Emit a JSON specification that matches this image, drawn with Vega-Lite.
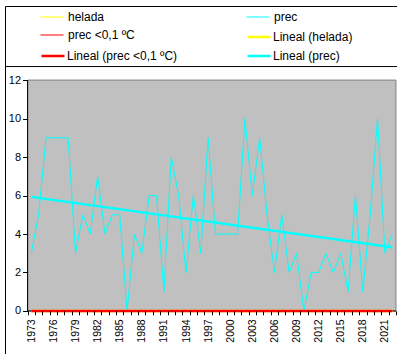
{
  "$schema": "https://vega.github.io/schema/vega-lite/v6.json",
  "width": 392,
  "height": 348,
  "autosize": {"type": "none"},
  "padding": {"left": 5, "top": 6, "right": 0, "bottom": 0},
  "background": "white",
  "config": {
    "view": {"stroke": "black", "strokeWidth": 1},
    "font": "Liberation Sans",
    "axis": {"labelFont": "Liberation Sans", "labelColor": "black", "tickColor": "black", "grid": false, "domain": false},
    "legend": {"labelFont": "Liberation Sans", "labelColor": "black"}
  },
  "data": {"values": [
    {"year": 1973, "helada": 0, "prec": 3, "prec <0,1 ºC": 0},
    {"year": 1974, "helada": 0, "prec": 5, "prec <0,1 ºC": 0},
    {"year": 1975, "helada": 0, "prec": 9, "prec <0,1 ºC": 0},
    {"year": 1976, "helada": 0, "prec": 9, "prec <0,1 ºC": 0},
    {"year": 1977, "helada": 0, "prec": 9, "prec <0,1 ºC": 0},
    {"year": 1978, "helada": 0, "prec": 9, "prec <0,1 ºC": 0},
    {"year": 1979, "helada": 0, "prec": 3, "prec <0,1 ºC": 0},
    {"year": 1980, "helada": 0, "prec": 5, "prec <0,1 ºC": 0},
    {"year": 1981, "helada": 0, "prec": 4, "prec <0,1 ºC": 0},
    {"year": 1982, "helada": 0, "prec": 7, "prec <0,1 ºC": 0},
    {"year": 1983, "helada": 0, "prec": 4, "prec <0,1 ºC": 0},
    {"year": 1984, "helada": 0, "prec": 5, "prec <0,1 ºC": 0},
    {"year": 1985, "helada": 0, "prec": 5, "prec <0,1 ºC": 0},
    {"year": 1986, "helada": 0, "prec": 0, "prec <0,1 ºC": 0},
    {"year": 1987, "helada": 0, "prec": 4, "prec <0,1 ºC": 0},
    {"year": 1988, "helada": 0, "prec": 3, "prec <0,1 ºC": 0},
    {"year": 1989, "helada": 0, "prec": 6, "prec <0,1 ºC": 0},
    {"year": 1990, "helada": 0, "prec": 6, "prec <0,1 ºC": 0},
    {"year": 1991, "helada": 0, "prec": 1, "prec <0,1 ºC": 0},
    {"year": 1992, "helada": 0, "prec": 8, "prec <0,1 ºC": 0},
    {"year": 1993, "helada": 0, "prec": 6, "prec <0,1 ºC": 0},
    {"year": 1994, "helada": 0, "prec": 2, "prec <0,1 ºC": 0},
    {"year": 1995, "helada": 0, "prec": 6, "prec <0,1 ºC": 0},
    {"year": 1996, "helada": 0, "prec": 3, "prec <0,1 ºC": 0},
    {"year": 1997, "helada": 0, "prec": 9, "prec <0,1 ºC": 0},
    {"year": 1998, "helada": 0, "prec": 4, "prec <0,1 ºC": 0},
    {"year": 1999, "helada": 0, "prec": 4, "prec <0,1 ºC": 0},
    {"year": 2000, "helada": 0, "prec": 4, "prec <0,1 ºC": 0},
    {"year": 2001, "helada": 0, "prec": 4, "prec <0,1 ºC": 0},
    {"year": 2002, "helada": 0, "prec": 10, "prec <0,1 ºC": 0},
    {"year": 2003, "helada": 0, "prec": 6, "prec <0,1 ºC": 0},
    {"year": 2004, "helada": 0, "prec": 9, "prec <0,1 ºC": 0},
    {"year": 2005, "helada": 0, "prec": 5, "prec <0,1 ºC": 0},
    {"year": 2006, "helada": 0, "prec": 2, "prec <0,1 ºC": 0},
    {"year": 2007, "helada": 0, "prec": 5, "prec <0,1 ºC": 0},
    {"year": 2008, "helada": 0, "prec": 2, "prec <0,1 ºC": 0},
    {"year": 2009, "helada": 0, "prec": 3, "prec <0,1 ºC": 0},
    {"year": 2010, "helada": 0, "prec": 0, "prec <0,1 ºC": 0},
    {"year": 2011, "helada": 0, "prec": 2, "prec <0,1 ºC": 0},
    {"year": 2012, "helada": 0, "prec": 2, "prec <0,1 ºC": 0},
    {"year": 2013, "helada": 0, "prec": 3, "prec <0,1 ºC": 0},
    {"year": 2014, "helada": 0, "prec": 2, "prec <0,1 ºC": 0},
    {"year": 2015, "helada": 0, "prec": 3, "prec <0,1 ºC": 0},
    {"year": 2016, "helada": 0, "prec": 1, "prec <0,1 ºC": 0},
    {"year": 2017, "helada": 0, "prec": 6, "prec <0,1 ºC": 0},
    {"year": 2018, "helada": 0, "prec": 1, "prec <0,1 ºC": 0},
    {"year": 2019, "helada": 0, "prec": 5, "prec <0,1 ºC": 0},
    {"year": 2020, "helada": 0, "prec": 10, "prec <0,1 ºC": 0},
    {"year": 2021, "helada": 0, "prec": 3, "prec <0,1 ºC": 0},
    {"year": 2022, "helada": 0, "prec": 4, "prec <0,1 ºC": 0}
  ]},
  "layer": [
    {
      "data": {"values": [{}]},
      "mark": {"type": "rect", "fill": "#C0C0C0", "stroke": "#808080", "strokeWidth": 1},
      "encoding": {
        "x": {"datum": 1972.5, "type": "quantitative",
              "scale": {"domain": [1969.43, 2022.64], "nice": false, "zero": false},
              "axis": {"orient": "bottom", "offset": -43.2, "values": [1972.5, 1973.5, 1974.5, 1975.5, 1976.5, 1977.5, 1978.5, 1979.5, 1980.5, 1981.5, 1982.5, 1983.5, 1984.5, 1985.5, 1986.5, 1987.5, 1988.5, 1989.5, 1990.5, 1991.5, 1992.5, 1993.5, 1994.5, 1995.5, 1996.5, 1997.5, 1998.5, 1999.5, 2000.5, 2001.5, 2002.5, 2003.5, 2004.5, 2005.5, 2006.5, 2007.5, 2008.5, 2009.5, 2010.5, 2011.5, 2012.5, 2013.5, 2014.5, 2015.5, 2016.5, 2017.5, 2018.5, 2019.5, 2020.5, 2021.5, 2022.5],
                       "labels": false, "tickSize": 4, "domain": false, "title": null, "zindex": 2}},
        "x2": {"datum": 2022.5},
        "y": {"datum": 0, "type": "quantitative",
              "scale": {"domain": [-2.236, 15.85], "nice": false, "zero": false},
              "axis": {"orient": "left", "offset": -22.6, "values": [0, 2, 4, 6, 8, 10, 12], "tickSize": 5, "labelPadding": 2, "labelFontSize": 11, "domain": false, "title": null, "zindex": 2}},
        "y2": {"datum": 12}
      }
    },
    {
      "data": {"values": [{}]},
      "mark": {"type": "rule", "color": "black", "strokeWidth": 1},
      "encoding": {
        "x": {"datum": 1972.5, "type": "quantitative", "axis": null},
        "y": {"datum": 0, "type": "quantitative", "axis": {"orient": "left", "offset": -22.6, "values": [0, 2, 4, 6, 8, 10, 12], "tickSize": 5, "labelPadding": 2, "labelFontSize": 11, "domain": false, "title": null, "zindex": 2}},
        "y2": {"datum": 12}
      }
    },
    {
      "data": {"values": [{}]},
      "mark": {"type": "rule", "color": "black", "strokeWidth": 1},
      "encoding": {
        "x": {"datum": 1972.5, "type": "quantitative", "axis": null},
        "x2": {"datum": 2022.5},
        "y": {"datum": 0, "type": "quantitative", "axis": {"orient": "left", "offset": -22.6, "values": [0, 2, 4, 6, 8, 10, 12], "tickSize": 5, "labelPadding": 2, "labelFontSize": 11, "domain": false, "title": null, "zindex": 2}}
      }
    },
    {
      "data": {"values": [{}]},
      "mark": {"type": "rule", "color": "black", "strokeWidth": 1},
      "encoding": {
        "y": {"datum": 12.704, "type": "quantitative", "axis": {"orient": "left", "offset": -22.6, "values": [0, 2, 4, 6, 8, 10, 12], "tickSize": 5, "labelPadding": 2, "labelFontSize": 11, "domain": false, "title": null, "zindex": 2}}
      }
    },
    {
      "transform": [{"fold": ["helada", "prec <0,1 ºC", "prec"], "as": ["key", "value"]}],
      "mark": {"type": "line", "strokeWidth": 1},
      "encoding": {
        "x": {"field": "year", "type": "quantitative",
              "axis": {"orient": "bottom", "offset": -43.2, "values": [1973, 1976, 1979, 1982, 1985, 1988, 1991, 1994, 1997, 2000, 2003, 2006, 2009, 2012, 2015, 2018, 2021],
                       "ticks": false, "domain": false, "labelAngle": 270, "labelAlign": "right", "labelBaseline": "middle",
                       "labelPadding": 8, "labelFontSize": 10.5, "format": "d", "labelFlush": false, "labelOverlap": false, "title": null, "zindex": 2}},
        "y": {"field": "value", "type": "quantitative", "axis": {"orient": "left", "offset": -22.6, "values": [0, 2, 4, 6, 8, 10, 12], "tickSize": 5, "labelPadding": 2, "labelFontSize": 11, "domain": false, "title": null, "zindex": 2}},
        "color": {"field": "key", "type": "nominal",
                  "scale": {"domain": ["helada", "prec <0,1 ºC", "prec"], "range": ["#FFFF00", "#FF0000", "#00FFFF"]},
                  "legend": {"title": null, "orient": "none", "legendX": 35, "legendY": -1, "columns": 2, "symbolType": "stroke",
                             "symbolSize": 529, "symbolStrokeWidth": 1,
                             "labelFontSize": 12, "labelOffset": 4, "rowPadding": -4, "columnPadding": 109, "padding": 0}}
      }
    },
    {
      "transform": [{"regression": "helada", "on": "year"}],
      "mark": {"type": "line", "strokeWidth": 2.5},
      "encoding": {
        "x": {"field": "year", "type": "quantitative", "axis": null},
        "y": {"field": "helada", "type": "quantitative", "axis": {"orient": "left", "offset": -22.6, "values": [0, 2, 4, 6, 8, 10, 12], "tickSize": 5, "labelPadding": 2, "labelFontSize": 11, "domain": false, "title": null, "zindex": 2}},
        "stroke": {"datum": "Lineal (helada)",
                   "scale": {"domain": ["Lineal (helada)", "Lineal (prec)"], "range": ["#FFFF00", "#00FFFF"]},
                   "legend": {"title": null, "orient": "none", "legendX": 241, "legendY": 18, "symbolType": "stroke",
                              "symbolSize": 529, "symbolStrokeWidth": 2.5,
                              "labelFontSize": 12, "labelOffset": 1, "rowPadding": -4, "padding": 0}}
      }
    },
    {
      "transform": [{"regression": "prec <0,1 ºC", "on": "year"}],
      "mark": {"type": "line", "strokeWidth": 2.5, "color": "#FF0000"},
      "encoding": {
        "x": {"field": "year", "type": "quantitative", "axis": null},
        "y": {"field": "prec <0,1 ºC", "type": "quantitative", "axis": {"orient": "left", "offset": -22.6, "values": [0, 2, 4, 6, 8, 10, 12], "tickSize": 5, "labelPadding": 2, "labelFontSize": 11, "domain": false, "title": null, "zindex": 2}},
        "strokeDash": {"datum": "Lineal (prec <0,1 ºC)",
                   "scale": {"domain": ["Lineal (prec <0,1 ºC)"], "range": [[1, 0]]},
                   "legend": {"title": null, "orient": "none", "legendX": 35, "legendY": 37, "symbolType": "stroke",
                              "symbolSize": 529, "symbolStrokeWidth": 2.5, "symbolStrokeColor": "#FF0000",
                              "labelFontSize": 12, "labelOffset": 1, "padding": 0}}
      }
    },
    {
      "transform": [{"regression": "prec", "on": "year"}],
      "mark": {"type": "line", "strokeWidth": 2.5},
      "encoding": {
        "x": {"field": "year", "type": "quantitative", "axis": null},
        "y": {"field": "prec", "type": "quantitative", "axis": {"orient": "left", "offset": -22.6, "values": [0, 2, 4, 6, 8, 10, 12], "tickSize": 5, "labelPadding": 2, "labelFontSize": 11, "domain": false, "title": null, "zindex": 2}},
        "stroke": {"datum": "Lineal (prec)"}
      }
    }
  ],
  "resolve": {"axis": {"x": "independent"}}
}
